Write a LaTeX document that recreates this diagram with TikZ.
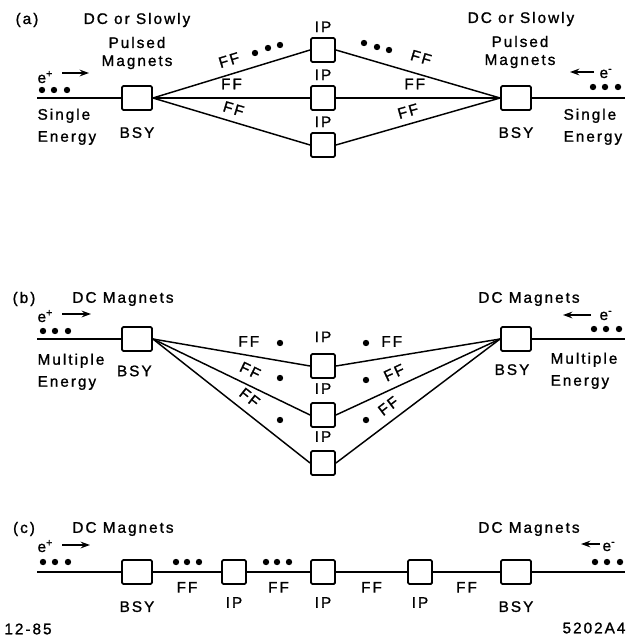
\documentclass[tikz,border=0pt]{standalone}
\usepackage{fontspec}
\setmainfont{Liberation Sans}[LetterSpace=13, FakeBold=1.2]
\usetikzlibrary{arrows.meta,positioning}

\begin{document}
\begin{tikzpicture}[
        x=0.75pt,
        y=-0.75pt,
        font=\fontsize{11.5}{13.5}\selectfont,
        beam/.style={line width=1.1pt},
        beamarrow/.style={line width=1.3pt, -{Stealth[length=7pt, width=5pt]}},
        bsybox/.style={draw, line width=1.4pt, rounded corners=1pt, minimum width=22.5pt, minimum height=18pt, inner sep=0pt},
        ipbox/.style={bsybox, minimum width=18pt},
        lbl/.style={inner sep=1pt},
        ff/.style={inner sep=2pt}
    ]
        \useasboundingbox (0,0) rectangle (628,638);

        % Panel (a): single energy, fan of three IPs.
        \node[lbl] (tagA) at (27,20) {(a)};
        \node[lbl] (dcAL) at (137,20) {DC or Slowly};
        \node[lbl, align=center] (pmAL) at (137,53) {Pulsed\\Magnets};
        \node[lbl] (dcAR) at (521,19) {DC or Slowly};
        \node[lbl, align=center] (pmAR) at (520,52) {Pulsed\\Magnets};

        \node[bsybox] (bsyAL) at (137,98) {};
        \node[bsybox] (bsyAR) at (516,98) {};
        \node[lbl, below=11pt of bsyAL] (bsyAlblL) {BSY};
        \node[lbl, below=11pt of bsyAR] (bsyAlblR) {BSY};
        \foreach \i/\y in {1/50,2/98,3/145} {
            \node[ipbox] (ipA\i) at (323,\y) {};
            \node[lbl, above=2.5pt of ipA\i] (ipAlbl\i) {IP};
        }

        \coordinate (inA) at (37,98);
        \coordinate (outA) at (625,98);
        \draw[beam] (inA) -- (bsyAL.west);
        \draw[beam] (bsyAR.east) -- (outA);
        \draw[beam] (bsyAL.east) -- node[ff, pos=.51, sloped, above=4pt] (ffA1) {FF} (ipA1.west);
        \draw[beam] (bsyAL.east) -- node[ff, pos=.5, above=4pt] (ffA2) {FF} (ipA2.west);
        \draw[beam] (bsyAL.east) -- node[ff, pos=.49, sloped, above=3pt] (ffA3) {FF} (ipA3.west);
        \draw[beam] (ipA1.east) -- node[ff, pos=.49, sloped, above=6pt] (ffA4) {FF} (bsyAR.west);
        \draw[beam] (ipA2.east) -- node[ff, pos=.48, above=4pt] (ffA5) {FF} (bsyAR.west);
        \draw[beam] (ipA3.east) -- node[ff, pos=.46, sloped, above=3pt] (ffA6) {FF} (bsyAR.west);

        \node[lbl, anchor=base west] (epA) at (36,83) {e\textsuperscript{+}};
        \node[lbl, anchor=base west] (emA) at (598,78) {e\textsuperscript{-}};
        \coordinate (arAs) at (62,73); \coordinate (arAe) at (89,73);
        \coordinate (arBs) at (594,72); \coordinate (arBe) at (570,72);
        \draw[beamarrow] (arAs) -- (arAe);
        \draw[beamarrow] (arBs) -- (arBe);
        \node[lbl, align=left, anchor=north west] (enAL) at (36,107) {Single\\[3pt]Energy};
        \node[lbl, align=left, anchor=north west] (enAR) at (562,107) {Single\\[3pt]Energy};
        \foreach \x/\y in {42/90,54/90,67/90, 593/87,605/87,618/87,
                           255/53,268/48,280/45, 364/43,377/47,389/50} {
            \fill (\x,\y) circle (3.2);
        }

        % Panel (b): multiple energies, three IPs at different depths.
        \node[lbl] (tagB) at (24,299) {(b)};
        \node[lbl] (dcBL) at (123,299) {DC Magnets};
        \node[lbl] (dcBR) at (529,299) {DC Magnets};

        \node[bsybox] (bsyBL) at (137,339) {};
        \node[bsybox] (bsyBR) at (516,339) {};
        \node[lbl, below=9pt of bsyBL, xshift=-2pt] (bsyBlblL) {BSY};
        \node[lbl, below=8pt of bsyBR, xshift=-3pt] (bsyBlblR) {BSY};
        \foreach \i/\y in {1/366,2/415,3/463} {
            \node[ipbox] (ipB\i) at (323,\y) {};
        }
        \node[lbl, above=7pt of ipB1] (ipBlbl1) {IP};
        \node[lbl, above=5pt of ipB2] (ipBlbl2) {IP};
        \node[lbl, above=5pt of ipB3] (ipBlbl3) {IP};

        \coordinate (inB) at (37,339);
        \coordinate (outB) at (625,339);
        \draw[beam] (inB) -- (bsyBL.west);
        \draw[beam] (bsyBR.east) -- (outB);
        \draw[beam] (bsyBL.east) -- node[ff, pos=.61, above=4pt] (ffB1) {FF} (ipB1.west);
        \draw[beam] (bsyBL.east) -- node[ff, pos=.58, sloped, above=4pt] (ffB2) {FF} (ipB2.west);
        \draw[beam] (bsyBL.east) -- node[ff, pos=.56, sloped, above=4pt] (ffB3) {FF} (ipB3.west);
        \draw[beam] (ipB1.east) -- node[ff, pos=.34, above=5pt] (ffB4) {FF} (bsyBR.west);
        \draw[beam] (ipB2.east) -- node[ff, pos=.39, sloped, above=4pt] (ffB5) {FF} (bsyBR.west);
        \draw[beam] (ipB3.east) -- node[ff, pos=.37, sloped, above=4pt] (ffB6) {FF} (bsyBR.west);

        \node[lbl, anchor=base west] (epB) at (36,322) {e\textsuperscript{+}};
        \node[lbl, anchor=base west] (emB) at (598,320) {e\textsuperscript{-}};
        \coordinate (arCs) at (62,314); \coordinate (arCe) at (91,314);
        \coordinate (arDs) at (591,315); \coordinate (arDe) at (563,315);
        \draw[beamarrow] (arCs) -- (arCe);
        \draw[beamarrow] (arDs) -- (arDe);
        \node[lbl, align=left, anchor=north west] (enBL) at (36,352) {Multiple\\[3pt]Energy};
        \node[lbl, align=left, anchor=north west] (enBR) at (549,351) {Multiple\\[3pt]Energy};
        \foreach \x/\y in {43/331,55/331,68/331, 594/329,606/329,619/329,
                           280/343,280/378,280/420, 366/343,366/380,366/420} {
            \fill (\x,\y) circle (3.2);
        }

        % Panel (c): all IPs in line.
        \node[lbl] (tagC) at (24,529) {(c)};
        \node[lbl] (dcCL) at (123,529) {DC Magnets};
        \node[lbl] (dcCR) at (529,529) {DC Magnets};

        \node[bsybox] (bsyCL) at (137,572) {};
        \node[bsybox] (bsyCR) at (516,572) {};
        \node[lbl, below=11pt of bsyCL] (bsyClblL) {BSY};
        \node[lbl, below=11pt of bsyCR] (bsyClblR) {BSY};
        \foreach \i/\x in {1/234,2/323,3/420} {
            \node[ipbox] (ipC\i) at (\x,572) {};
            \node[lbl, below=8pt of ipC\i] (ipClbl\i) {IP};
        }

        \coordinate (inC) at (37,572);
        \coordinate (outC) at (625,572);
        \draw[beam] (inC) -- (bsyCL.west);
        \draw[beam] (bsyCL.east) -- node[ff, below=5pt] (ffC1) {FF} (ipC1.west);
        \draw[beam] (ipC1.east) -- node[ff, below=5pt] (ffC2) {FF} (ipC2.west);
        \draw[beam] (ipC2.east) -- node[ff, below=5pt] (ffC3) {FF} (ipC3.west);
        \draw[beam] (ipC3.east) -- node[ff, below=5pt] (ffC4) {FF} (bsyCR.west);
        \draw[beam] (bsyCR.east) -- (outC);

        \node[lbl, anchor=base west] (epC) at (36,552) {e\textsuperscript{+}};
        \node[lbl, anchor=base west] (emC) at (601,551) {e\textsuperscript{-}};
        \coordinate (arEs) at (62,545); \coordinate (arEe) at (90,545);
        \coordinate (arFs) at (600,544); \coordinate (arFe) at (581,544);
        \draw[beamarrow] (arEs) -- (arEe);
        \draw[beamarrow] (arFs) -- (arFe);
        \foreach \x/\y in {43/562,55/562,68/562, 176/562,187/562,199/562,
                           266/562,277/562,289/562, 595/562,607/562,620/562} {
            \fill (\x,\y) circle (3.2);
        }

        \node[lbl] (date) at (28,629) {12-85};
        \node[lbl] (figno) at (594,628) {5202A4};
    \end{tikzpicture}
\end{document}
